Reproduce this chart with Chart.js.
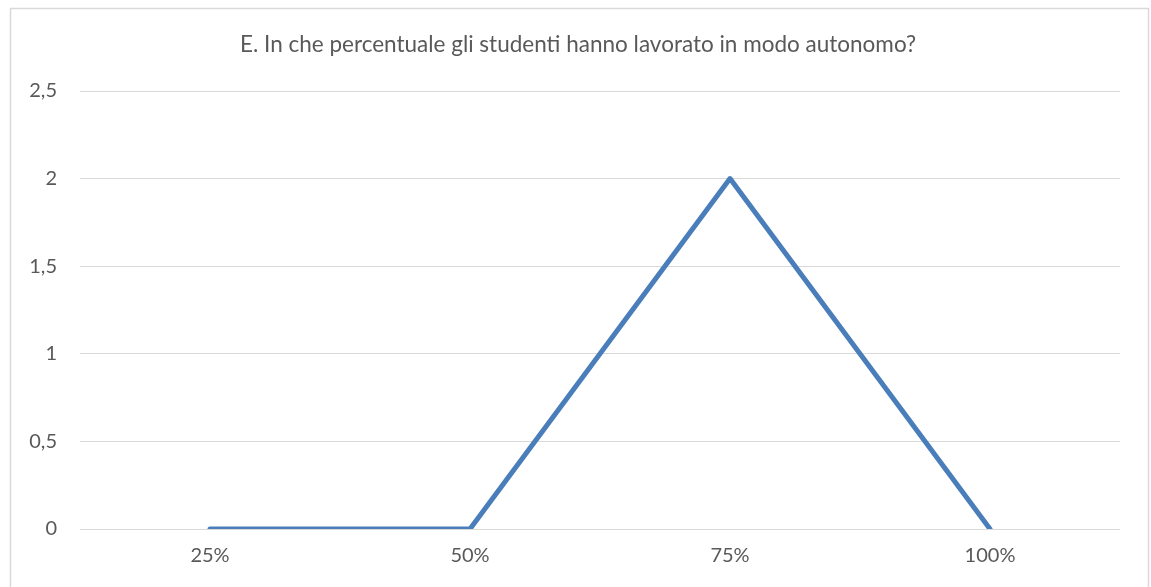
<!DOCTYPE html>
<html>
<head>
<meta charset="utf-8">
<script src="https://cdn.jsdelivr.net/npm/chart.js@4/dist/chart.umd.min.js"></script>
<style>
  html, body { margin: 0; padding: 0; background: #ffffff; }
  #wrap { position: absolute; left: 0; top: 0; width: 1151px; height: 587px; }
</style>
</head>
<body>
<div id="wrap"><canvas id="c" width="1151" height="587"></canvas></div>
<script>
const categories = ['25%', '50%', '75%', '100%'];
const values = [0, 0, 2, 0];
const titleText = 'E. In che percentuale gli studenti hanno lavorato in modo autonomo?';
const yMin = 0, yMax = 2.5, yStep = 0.5;

const borderPlugin = {
  id: 'outerBorder',
  afterLayout(chart) {
    if (chart.titleBlock) {
      chart.titleBlock.left = 36;
      chart.titleBlock.right = 1120;
    }
  },
  beforeDraw(chart) {
    const ctx = chart.ctx;
    ctx.save();
    ctx.fillStyle = '#ffffff';
    ctx.fillRect(0, 0, chart.width, chart.height);
    ctx.strokeStyle = '#d9d9d9';
    ctx.lineWidth = 1.5;
    ctx.strokeRect(10.5, 8.5, 1138, 700);
    ctx.restore();
  }
};

new Chart(document.getElementById('c'), {
  type: 'line',
  data: {
    labels: categories,
    datasets: [{
      data: values,
      borderColor: '#4a7ebb',
      borderWidth: 5,
      pointRadius: 0,
      pointHoverRadius: 0,
      fill: false,
      tension: 0,
      borderCapStyle: 'round',
      borderJoinStyle: 'round'
    }]
  },
  options: {
    responsive: false,
    animation: false,
    devicePixelRatio: 1,
    layout: { padding: { left: 0, right: 31, top: 0, bottom: 0 } },
    plugins: {
      legend: { display: false },
      tooltip: { enabled: false },
      title: {
        display: true,
        text: titleText,
        color: '#595959',
        font: { family: 'Lato', size: 22.5, weight: 'normal' },
        padding: { top: 31, bottom: 33 }
      }
    },
    scales: {
      x: {
        offset: true,
        grid: { display: false, drawTicks: false },
        border: { display: false },
        ticks: { color: '#595959', font: { family: 'Lato', size: 20 }, padding: 15, maxRotation: 0 },
        afterFit(scale) { scale.height = 58; }
      },
      y: {
        min: yMin,
        max: yMax,
        grid: { color: '#d9d9d9', lineWidth: 1, drawTicks: false },
        border: { display: false },
        ticks: {
          stepSize: yStep,
          color: '#595959',
          font: { family: 'Lato', size: 20 },
          padding: 23,
          callback: (v) => String(v).replace('.', ',')
        },
        afterFit(scale) { scale.width = 80; }
      }
    }
  },
  plugins: [borderPlugin]
});
</script>
</body>
</html>
